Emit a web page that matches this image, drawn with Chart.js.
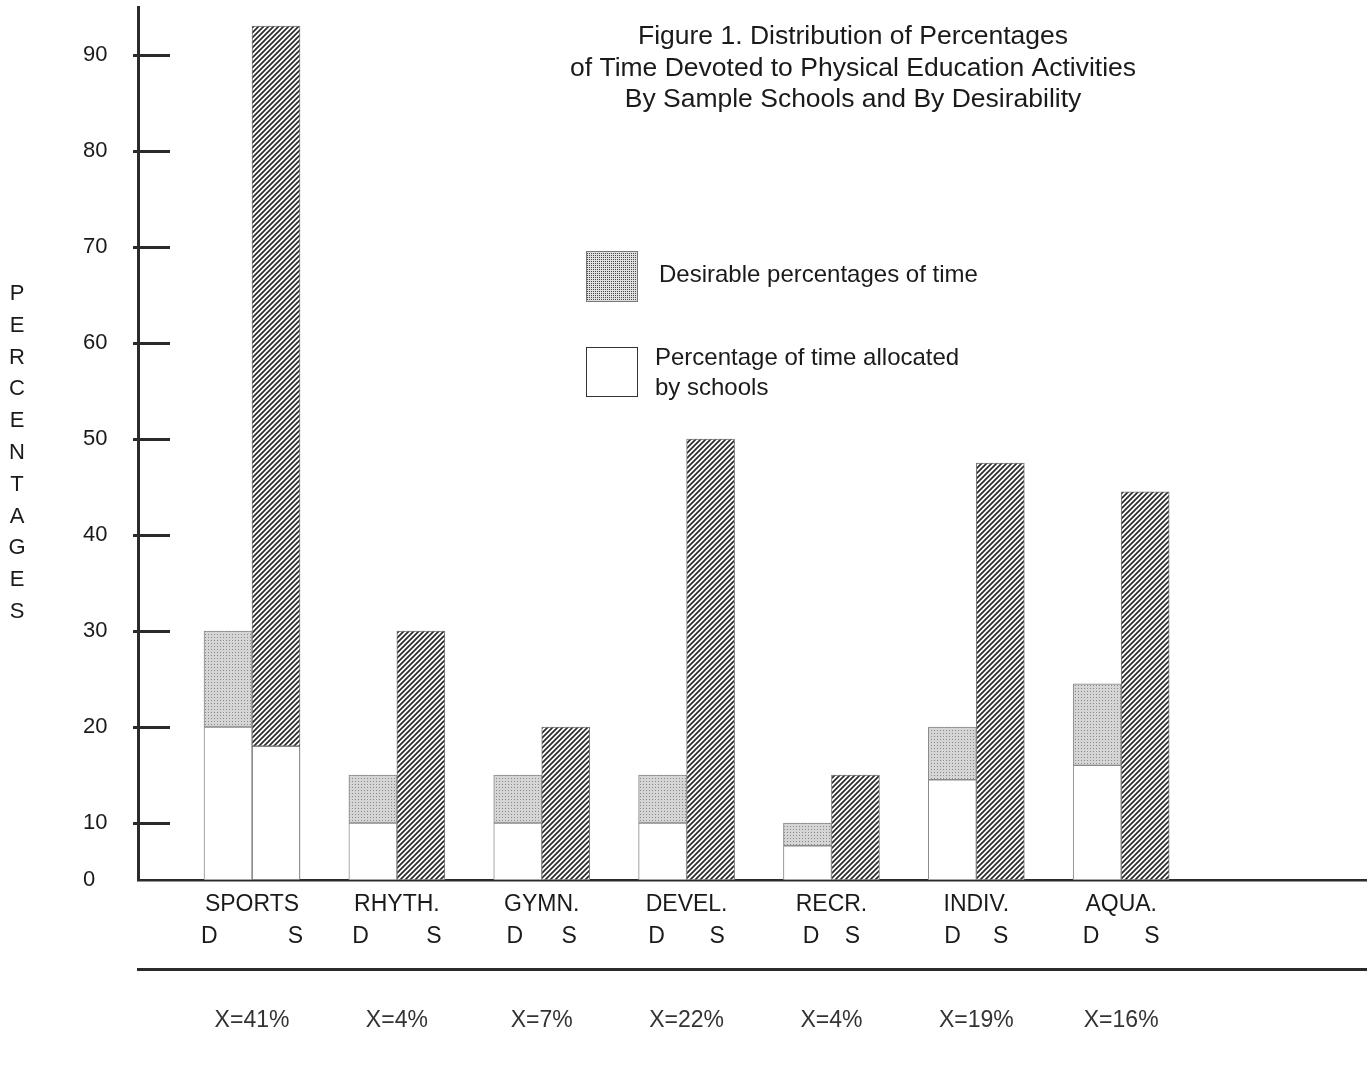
<!DOCTYPE html>
<html>
<head>
<meta charset="utf-8">
<script src="https://cdn.jsdelivr.net/npm/chart.js@4.4.1/dist/chart.umd.min.js"></script>
<style>
  body { margin: 0; background: #fff; }
  canvas { display: block; }
</style>
</head>
<body>
<canvas id="chart" width="1367" height="1074"></canvas>
<script>
const categories = ["SPORTS", "RHYTH.", "GYMN.", "DEVEL.", "RECR.", "INDIV.", "AQUA."];
const dsLabels = ["D           S", "D         S", "D      S", "D       S", "D    S", "D     S", "D       S"];
const meanLabels = ["X=41%", "X=4%", "X=7%", "X=22%", "X=4%", "X=19%", "X=16%"];
// D bar: white part up to desirableLow, stippled part up to desirableHigh
const desirableLow = [20, 10, 10, 10, 6, 14.5, 16];
const desirableHigh = [30, 15, 15, 15, 10, 20, 24.5];
// S bar: white part up to schoolsLow, hatched part up to schoolsHigh
const schoolsLow = [18, 0, 0, 0, 0, 0, 0];
const schoolsHigh = [93, 30, 20, 50, 15, 47.5, 44.5];
const yTicks = [0, 10, 20, 30, 40, 50, 60, 70, 80, 90];

const titleLines = [
  "Figure 1. Distribution of Percentages",
  "of Time Devoted to Physical Education Activities",
  "By Sample Schools and By Desirability"
];
const yTitle = "PERCENTAGES";
const legendDesirable = ["Desirable percentages of time"];
const legendAllocated = ["Percentage of time allocated", "by schools"];

const FONT = "'Liberation Sans', Arial, Helvetica, sans-serif";
const INK = "#1a1a1a";

function makeHatch() {
  const c = document.createElement("canvas");
  c.width = 5;
  c.height = 5;
  const g = c.getContext("2d");
  g.fillStyle = "#fff";
  g.fillRect(0, 0, 5, 5);
  g.strokeStyle = "#2b2b2b";
  g.lineWidth = 1.7;
  g.beginPath();
  g.moveTo(-1, 6); g.lineTo(6, -1);
  g.moveTo(-1, 1); g.lineTo(1, -1);
  g.moveTo(4, 6); g.lineTo(6, 4);
  g.stroke();
  return g.createPattern(c, "repeat");
}

function makeStipple(bg, dot, size) {
  const c = document.createElement("canvas");
  c.width = size;
  c.height = size;
  const g = c.getContext("2d");
  g.fillStyle = bg;
  g.fillRect(0, 0, size, size);
  g.fillStyle = dot;
  g.fillRect(1, 1, 1, 1);
  return g.createPattern(c, "repeat");
}

const hatch = makeHatch();
const stipple = makeStipple("#d5d5d5", "#8a8a8a", 3);
const stippleDark = makeStipple("#e0e0e0", "#4a4a4a", 2);

// linear scale with the 0-10 band squeezed, like the printed axis
const squeeze = 0.594;
function squash(v) {
  return v < 10 ? v * squeeze : v - 10 + 10 * squeeze;
}
class BrokenScale extends Chart.LinearScale {
  getPixelForValue(value) {
    if (value === null || isNaN(value)) return NaN;
    const lo = squash(this.min);
    const hi = squash(this.max);
    return this.getPixelForDecimal((squash(value) - lo) / (hi - lo));
  }
}
BrokenScale.id = "broken";
Chart.register(BrokenScale);

const decorations = {
  id: "decorations",
  afterDraw(chart) {
    const ctx = chart.ctx;
    const y = chart.scales.y;
    ctx.save();

    // tick marks crossing the y axis
    ctx.strokeStyle = "#2b2b2b";
    ctx.lineWidth = 3;
    yTicks.forEach((v) => {
      if (v === 0) return;
      const py = Math.round(y.getPixelForValue(v)) + 0.5;
      ctx.beginPath();
      ctx.moveTo(133, py);
      ctx.lineTo(170, py);
      ctx.stroke();
    });

    // title
    ctx.fillStyle = INK;
    ctx.font = "26.5px " + FONT;
    ctx.textAlign = "center";
    ctx.textBaseline = "middle";
    titleLines.forEach((line, i) => ctx.fillText(line, 853, 37 + i * 31.5));

    // vertical axis title, one letter per line
    ctx.font = "22px " + FONT;
    yTitle.split("").forEach((ch, i) => ctx.fillText(ch, 17, 294 + i * 31.8));

    // legend
    ctx.fillStyle = stippleDark;
    ctx.fillRect(586, 251, 51, 50);
    ctx.strokeStyle = "#777";
    ctx.lineWidth = 1;
    ctx.strokeRect(586.5, 251.5, 51, 50);
    ctx.fillStyle = "#fff";
    ctx.fillRect(586, 347, 51, 49);
    ctx.strokeStyle = "#333";
    ctx.strokeRect(586.5, 347.5, 51, 49);

    ctx.fillStyle = INK;
    ctx.font = "24px " + FONT;
    ctx.textAlign = "left";
    ctx.fillText(legendDesirable[0], 659, 275);
    legendAllocated.forEach((line, i) => ctx.fillText(line, 655, 358 + i * 30));
    ctx.restore();
  }
};

const xMin = -0.787;
const xMax = 7.69;

new Chart(document.getElementById("chart"), {
  type: "bar",
  data: {
    datasets: [
      {
        label: legendAllocated.join(" "),
        stack: "D",
        data: desirableLow.map((v, i) => ({ x: i, y: [0, v] })),
        backgroundColor: "#fff",
        borderColor: "#8a8a8a",
        borderWidth: 1,
        borderSkipped: false
      },
      {
        label: legendDesirable[0],
        stack: "D",
        data: desirableHigh.map((v, i) => ({ x: i, y: [desirableLow[i], v] })),
        backgroundColor: stipple,
        borderColor: "#8a8a8a",
        borderWidth: 1,
        borderSkipped: false
      },
      {
        label: "Schools allocated (low)",
        stack: "S",
        data: schoolsLow.map((v, i) => ({ x: i, y: v > 0 ? [0, v] : null })),
        backgroundColor: "#fff",
        borderColor: "#5a5a5a",
        borderWidth: 1,
        borderSkipped: false
      },
      {
        label: "Schools range",
        stack: "S",
        data: schoolsHigh.map((v, i) => ({ x: i, y: [schoolsLow[i], v] })),
        backgroundColor: hatch,
        borderColor: "#777",
        borderWidth: 1,
        borderSkipped: false
      }
    ]
  },
  options: {
    responsive: false,
    animation: false,
    barThickness: 48,
    layout: { padding: { left: 83, top: 7, right: 1, bottom: 0 } },
    plugins: {
      legend: { display: false },
      tooltip: { enabled: false }
    },
    scales: {
      x: {
        type: "linear",
        position: "bottom",
        offset: false,
        min: xMin,
        max: xMax,
        weight: 0,
        grid: { display: false, drawTicks: false, offset: false },
        border: { display: true, color: "#2b2b2b", width: 2.5 },
        afterBuildTicks: (s) => {
          s.ticks = categories.map((c, i) => ({ value: i }));
        },
        afterFit: (s) => {
          s.height = 89;
          s.paddingLeft = 0;
          s.paddingRight = 0;
        },
        ticks: {
          autoSkip: false,
          maxRotation: 0,
          minRotation: 0,
          padding: 9,
          color: INK,
          font: { family: FONT, size: 23, lineHeight: 32 / 23 },
          callback: (v, i) => [categories[i], dsLabels[i]]
        }
      },
      x2: {
        type: "linear",
        position: "bottom",
        offset: false,
        min: xMin,
        max: xMax,
        weight: 1,
        grid: { display: false, drawTicks: false, offset: false },
        border: { display: true, color: "#2b2b2b", width: 3 },
        afterBuildTicks: (s) => {
          s.ticks = meanLabels.map((c, i) => ({ value: i }));
        },
        afterFit: (s) => {
          s.height = 105;
          s.paddingLeft = 0;
          s.paddingRight = 0;
        },
        ticks: {
          autoSkip: false,
          maxRotation: 0,
          minRotation: 0,
          padding: 38,
          color: "#333",
          font: { family: FONT, size: 23, lineHeight: 1.2 },
          callback: (v, i) => meanLabels[i]
        }
      },
      y: {
        type: "broken",
        stacked: false,
        min: 0,
        max: 95,
        grid: { display: false, drawTicks: false },
        border: { display: true, color: "#2b2b2b", width: 3 },
        afterBuildTicks: (s) => {
          s.ticks = yTicks.map((v) => ({ value: v }));
        },
        afterFit: (s) => {
          s.width = 55;
          s.paddingTop = 0;
          s.paddingBottom = 0;
        },
        ticks: {
          crossAlign: "far",
          padding: 0,
          color: INK,
          font: { family: FONT, size: 22 },
          callback: (v) => String(v)
        }
      }
    }
  },
  plugins: [decorations]
});
</script>
</body>
</html>
